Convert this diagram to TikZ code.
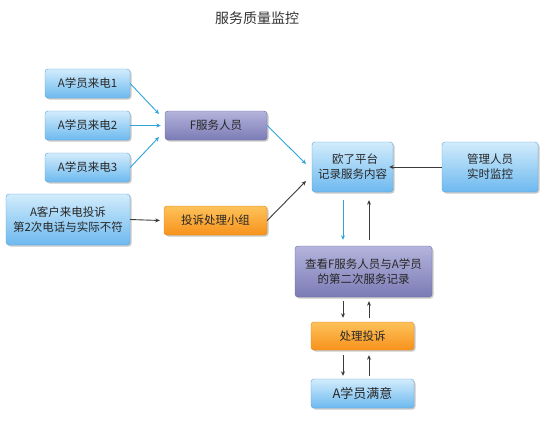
\documentclass[tikz,border=0pt]{standalone}
\usepackage{fontspec}
\setmainfont{Noto Sans CJK SC}
\usetikzlibrary{shadows,arrows.meta}
\definecolor{bluetop}{HTML}{D2ECFC}
\definecolor{bluebot}{HTML}{6DB9EF}
\definecolor{blueline}{HTML}{5AA2D8}
\definecolor{purtop}{HTML}{B4B4DC}
\definecolor{purbot}{HTML}{7B7BB6}
\definecolor{purline}{HTML}{6868A4}
\definecolor{ortop}{HTML}{FDC25A}
\definecolor{orbot}{HTML}{F7921C}
\definecolor{orline}{HTML}{DD8712}
\definecolor{arrblue}{HTML}{2FA3DB}
\definecolor{arrdark}{HTML}{3A3A3A}
\tikzset{
  base/.style={rounded corners=3pt, align=center, font=\fontsize{11.5pt}{15pt}\selectfont, text=black!85, inner sep=0pt, drop shadow={shadow xshift=1.5pt, shadow yshift=-1.5pt, opacity=0.35, fill=black!60}},
  bluebox/.style={base, draw=blueline, top color=bluetop, bottom color=bluebot},
  purbox/.style={base, draw=purline, top color=purtop, bottom color=purbot},
  orbox/.style={base, draw=orline, top color=ortop, bottom color=orbot},
  barr/.style={draw=arrblue, line width=0.9pt, -{Stealth[length=4.5pt,width=4pt]}},
  darr/.style={draw=arrdark, line width=0.9pt, -{Stealth[length=4.5pt,width=4pt]}},
}
\begin{document}
\begin{tikzpicture}[x=1pt,y=-1pt]
\useasboundingbox (0,0) rectangle (550,421);
\node[font=\fontsize{14pt}{16pt}\selectfont, text=black!80] (title) at (257,18) {服务质量监控};
\node[bluebox, minimum width=85pt, minimum height=29pt] (c1) at (87.5,83.5) {A学员来电1};
\node[bluebox, minimum width=85pt, minimum height=29pt] (c2) at (87.5,125.5) {A学员来电2};
\node[bluebox, minimum width=85pt, minimum height=29pt] (c3) at (87.5,167.5) {A学员来电3};
\node[bluebox, minimum width=124pt, minimum height=51pt] (cp) at (68,219.5) {A客户来电投诉\\第2次电话与实际不符};
\node[purbox, minimum width=102pt, minimum height=29pt] (f) at (216,125.5) {F服务人员};
\node[orbox, minimum width=103pt, minimum height=29pt] (g) at (215.5,220.5) {投诉处理小组};
\node[bluebox, minimum width=81pt, minimum height=50pt] (p) at (352.5,167) {\ \ 欧了平台\\记录服务内容};
\node[bluebox, minimum width=96pt, minimum height=50pt] (m) at (490,167) {管理人员\\实时监控};
\node[purbox, minimum width=137pt, minimum height=51pt] (v) at (363.5,271.5) {查看F服务人员与A学员\\的第二次服务记录};
\node[orbox, minimum width=103pt, minimum height=28pt] (h) at (362.5,336) {处理投诉};
\node[bluebox, minimum width=103pt, minimum height=29pt, font=\fontsize{13pt}{15pt}\selectfont] (s) at (362.5,393.5) {A学员满意};
\coordinate (fin) at (159,114);
\coordinate (fin3) at (159,137);
\coordinate (pin1) at (306,164);
\coordinate (pin2) at (306,181);
\draw[barr] (c1.east) -- (fin);
\draw[barr] (c2.east) -- ([xshift=-4pt]f.west);
\draw[barr] (c3.east) -- (fin3);
\draw[darr] (cp.east) -- ([xshift=-4pt]g.west);
\draw[barr] (f.east) -- (pin1);
\draw[darr] (g.east) -- (pin2);
\draw[darr] (m.west) -- ([xshift=-4pt]p.east);
% p <-> v  (x=343 down, x=369 up)
\draw[barr] ([xshift=-9.5pt,yshift=-8pt]p.south) -- ([xshift=-20.5pt,yshift=6pt]v.north);
\draw[darr] ([xshift=5.5pt,yshift=6pt]v.north) -- ([xshift=16.5pt,yshift=-8pt]p.south);
% v <-> h
\draw[darr] ([xshift=-20.5pt,yshift=-4pt]v.south) -- ([xshift=-19.5pt,yshift=4pt]h.north);
\draw[darr] ([xshift=6.5pt,yshift=4pt]h.north) -- ([xshift=5.5pt,yshift=-4pt]v.south);
% h <-> s
\draw[darr] ([xshift=-19.5pt,yshift=-5pt]h.south) -- ([xshift=-19.5pt,yshift=3pt]s.north);
\draw[darr] ([xshift=6.5pt,yshift=3pt]s.north) -- ([xshift=6.5pt,yshift=-5pt]h.south);
\end{tikzpicture}
\end{document}
